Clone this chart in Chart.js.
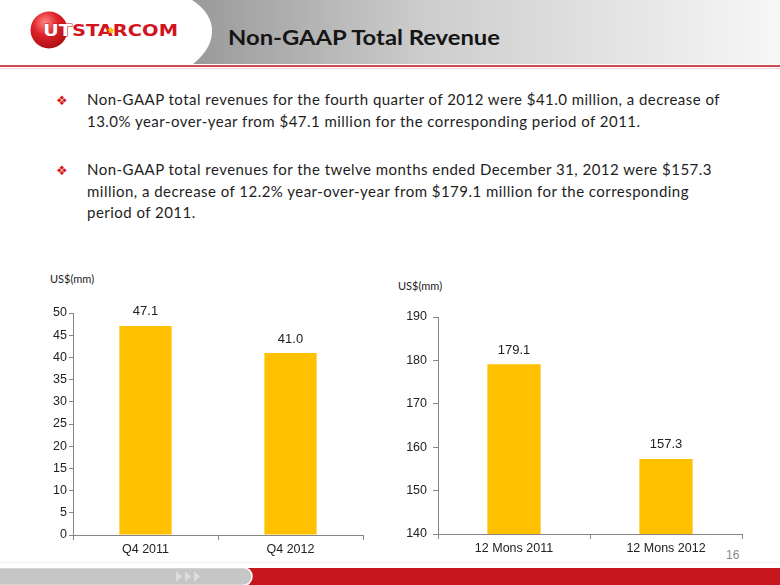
<!DOCTYPE html>
<html><head><meta charset="utf-8">
<script src="https://cdn.jsdelivr.net/npm/chart.js@4.4.0/dist/chart.umd.min.js"></script>
<style>
html,body{margin:0;padding:0;background:#fff;}
#page{position:relative;width:780px;height:585px;overflow:hidden;background:#fff;}
.abs{position:absolute;}
svg text{font-family:Lato,"Open Sans",sans-serif;}
</style></head>
<body><div id="page">
<svg class="abs" style="left:0;top:0" width="780" height="585" xmlns="http://www.w3.org/2000/svg">
  <defs>
    <linearGradient id="hg" gradientUnits="userSpaceOnUse" x1="190" y1="0" x2="780" y2="0">
      <stop offset="0" stop-color="#999999"/>
      <stop offset="0.4" stop-color="#cdcdcd"/>
      <stop offset="1" stop-color="#f7f7f7"/>
    </linearGradient>
    <radialGradient id="ball" cx="0.4" cy="0.3" r="0.75">
      <stop offset="0" stop-color="#ff8a84"/>
      <stop offset="0.45" stop-color="#e0222a"/>
      <stop offset="1" stop-color="#a80c12"/>
    </radialGradient>
  </defs>
  <!-- header -->
  <rect x="0" y="0" width="780" height="64" fill="url(#hg)"/>
  <path d="M0,0 H192 C205,8 213,20 212,33 C211,46 203,56 193,64 H0 Z" fill="#ffffff"/>
  <rect x="0" y="65" width="780" height="2" fill="#cc4a55"/>
  <rect x="0" y="68" width="780" height="1" fill="#f3dcdc"/>
  <!-- logo -->
  <circle cx="49" cy="30" r="18.5" fill="url(#ball)"/>
  <text x="43" y="36" textLength="135" lengthAdjust="spacingAndGlyphs" style="font-family:'DejaVu Sans',sans-serif;font-weight:bold;font-size:15px"><tspan fill="#ffffff" stroke="#c8141c" stroke-width="0.9" paint-order="stroke">UT</tspan><tspan fill="#d2141e">STARCOM</tspan></text>
  <polygon points="111,26.5 112.2,29 115,29.2 112.9,31 113.6,33.6 111,32.2 108.4,33.6 109.1,31 107,29.2 109.8,29" fill="#ffc000"/>
  <!-- title -->
  <text x="228" y="45" textLength="272" lengthAdjust="spacingAndGlyphs" style="font-weight:bold;font-size:21.5px" fill="#151515">Non-GAAP Total Revenue</text>
  <!-- bullets -->
  <text x="56" y="105" style="font-family:'DejaVu Sans',sans-serif;font-size:13px" fill="#d41a1a">❖</text>
  <text x="56" y="175" style="font-family:'DejaVu Sans',sans-serif;font-size:13px" fill="#d41a1a">❖</text>
  <g id="para" fill="#1e1e1e" style="font-size:15px">
    <text id="t1" x="87" y="105">Non-GAAP total revenues for the fourth quarter of 2012 were $41.0 million, a decrease of</text>
    <text x="87" y="127">13.0% year-over-year from $47.1 million for the corresponding period of 2011.</text>
    <text x="87" y="175">Non-GAAP total revenues for the twelve months ended December 31, 2012 were $157.3</text>
    <text x="87" y="197">million, a decrease of 12.2% year-over-year from $179.1 million for the corresponding</text>
    <text x="87" y="218">period of 2011.</text>
  </g>
  <!-- unit labels -->
  <text x="50" y="283" style="font-size:11px" fill="#222">US$(mm)</text>
  <text x="398" y="290" style="font-size:11px" fill="#222">US$(mm)</text>
  <!-- page number -->
  <text x="726" y="559" style="font-family:'Liberation Sans',Arial,sans-serif;font-size:12px" fill="#8a8a8a">16</text>
  <!-- footer -->
  <rect x="0" y="562" width="780" height="1" fill="#f2f2f2"/>
  <rect x="240" y="568" width="540" height="17" fill="#c8161e"/>
  <rect x="-20" y="567.5" width="272" height="18" rx="9" ry="9" fill="#c6c6c6" stroke="#ffffff" stroke-width="1.5"/>
  <g fill="#dcdcdc">
    <polygon points="176,571 182,576.5 176,582"/>
    <polygon points="185,571 191,576.5 185,582"/>
    <polygon points="194,571 200,576.5 194,582"/>
  </g>
</svg>
<div class="abs" style="left:0;top:300px;width:380px;height:265px"><canvas id="c1" width="380" height="265"></canvas></div>
<div class="abs" style="left:380px;top:300px;width:400px;height:265px"><canvas id="c2" width="400" height="265"></canvas></div>
</div>
<script>
// ---- data ----
const quarterCategories = ['Q4 2011', 'Q4 2012'];
const quarterValues = [47.1, 41.0];
const quarterAxis = [0, 50, 5];        // min, max, step

const annualCategories = ['12 Mons 2011', '12 Mons 2012'];
const annualValues = [179.1, 157.3];
const annualAxis = [140, 190, 10];     // min, max, step

// fit paragraph width
(function(){
  const t1 = document.getElementById('t1');
  const w = t1.getComputedTextLength();
  const ls = (633 - w) / t1.textContent.length;
  document.getElementById('para').style.letterSpacing = ls + 'px';
})();

const AXIS = '#868686';
const FONT = {family: '"Liberation Sans", Arial, sans-serif', size: 12.5};

const valueLabels = {
  id: 'valueLabels',
  afterDatasetsDraw(chart) {
    const ctx = chart.ctx;
    const meta = chart.getDatasetMeta(0);
    const data = chart.data.datasets[0].data;
    ctx.save();
    ctx.font = '13px "Liberation Sans", Arial, sans-serif';
    ctx.fillStyle = '#222';
    ctx.textAlign = 'center';
    ctx.textBaseline = 'middle';
    meta.data.forEach((bar, i) => {
      ctx.fillText(data[i].toFixed(1), bar.x, bar.y - 14);
    });
    ctx.restore();
  }
};

function makeChart(id, cats, vals, axis, o) {
  return new Chart(document.getElementById(id), {
    type: 'bar',
    data: {
      labels: cats,
      datasets: [{data: vals, backgroundColor: '#FFC000', borderWidth: 0,
                  barPercentage: o.barPct, categoryPercentage: 1}]
    },
    options: {
      responsive: false, animation: false,
      layout: {padding: o.padding},
      plugins: {legend: {display: false}, tooltip: {enabled: false}},
      scales: {
        x: {
          offset: true,
          grid: {display: true, drawOnChartArea: false, drawTicks: true, tickLength: 5, color: AXIS, offset: true},
          border: {display: true, color: AXIS, width: 1},
          ticks: {font: FONT, color: '#222', padding: 2, maxRotation: 0, autoSkip: false},
          afterFit(s) { s.height = o.xHeight; }
        },
        y: {
          min: axis[0], max: axis[1],
          ticks: {stepSize: axis[2], font: FONT, color: '#222', padding: o.tickPad},
          grid: {drawOnChartArea: false, drawTicks: true, tickLength: o.tickLen, color: AXIS},
          border: {display: true, color: AXIS, width: 1},
          afterFit(s) { s.width = o.yWidth; }
        }
      }
    },
    plugins: [valueLabels]
  });
}

makeChart('c1', quarterCategories, quarterValues, quarterAxis,
  {barPct: 0.36, padding: {left: 0, right: 17, top: 13, bottom: 0}, xHeight: 30, yWidth: 73, tickPad: 2, tickLen: 4});
makeChart('c2', annualCategories, annualValues, annualAxis,
  {barPct: 0.35, padding: {left: 0, right: 38, top: 17, bottom: 0}, xHeight: 31, yWidth: 58, tickPad: 6, tickLen: 5});
</script>
</body></html>
